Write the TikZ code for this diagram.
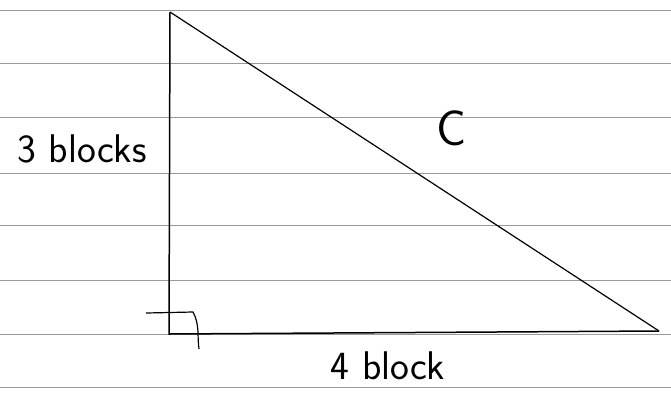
\documentclass[tikz,border=0pt]{standalone}
\usepackage{tikz}
\usetikzlibrary{positioning, calc}
\tikzset{
	ruled/.style={gray!80, line width=0.8pt},
	leg/.style={black, line width=1.5pt},
	handtext/.style={font=\fontsize{40}{42}\selectfont\sffamily}
}

\begin{document}
\begin{tikzpicture}[x=1pt, y=-1pt, >=stealth]
      \useasboundingbox (0,0) rectangle (671,402);
      \fill[white] (0,0) rectangle (671,402);

      % lined paper
      \foreach \yy in {10,63,117,173,225,280,334,387}
        \draw[ruled] (0,\yy) -- (671,\yy);

      % triangle corners
      \coordinate (top) at (170,12);
      \coordinate (corner) at (169,334);
      \coordinate (right) at (659,331);

      \draw[leg] (top) -- (corner) -- (right);
      \draw[leg, line width=1.2pt] (top) -- (right);

      % right angle mark
      \draw[leg, line width=1.2pt] (146,313) -- (193,312)
        .. controls (200,325) and (197,336) .. (199,349);

      % labels
      \node[handtext] (a) at (82,149) {3 blocks};
      \node[handtext] (b) at (388,366) {4 block};
      \node[handtext, font=\fontsize{50}{52}\selectfont\sffamily] (c) at (452,128) {C};
    \end{tikzpicture}
\end{document}
